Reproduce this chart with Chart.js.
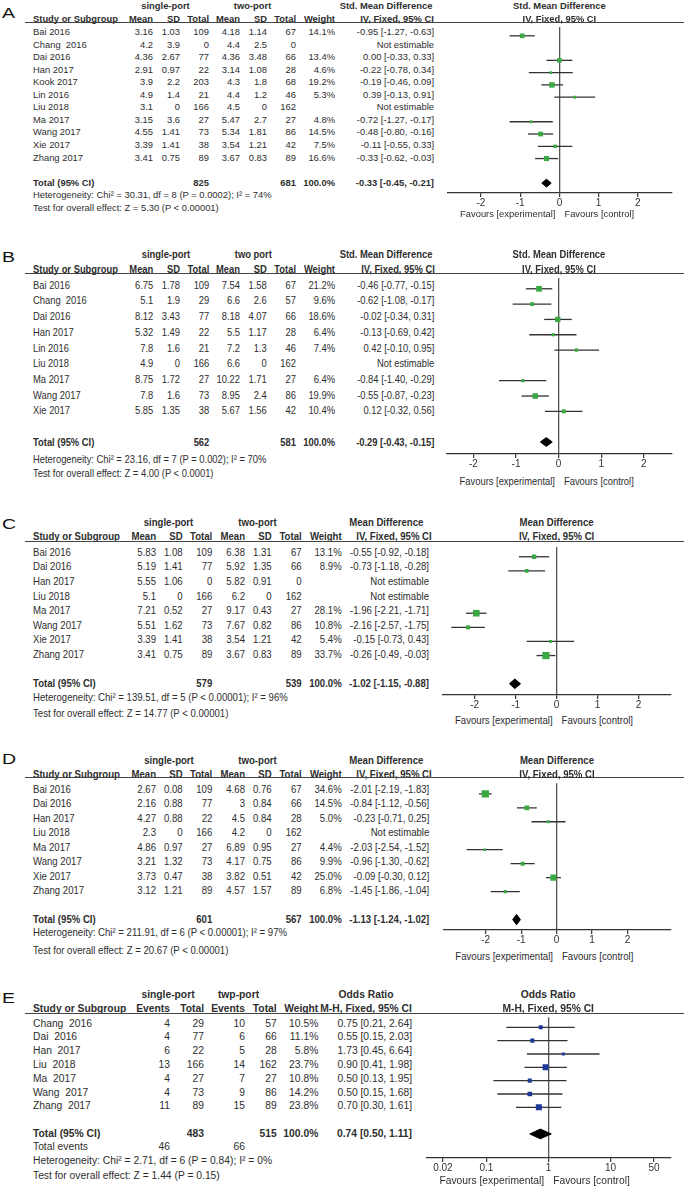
<!DOCTYPE html>
<html>
<head>
<meta charset="utf-8">
<script src="https://cdn.jsdelivr.net/npm/chart.js@4.4.1/dist/chart.umd.min.js"></script>
<style>
body{margin:0;background:#fff}
#fig{position:relative;width:684px;height:1191px;overflow:hidden;font-family:"Liberation Sans",Arial,sans-serif;color:#2e2e2e}
.t{position:absolute;white-space:pre;line-height:1;transform:translate(0,-50%) scaleY(var(--sy,1))}
.t.r{transform:translate(-100%,-50%) scaleY(var(--sy,1))}
.t.c{transform:translate(-50%,-50%) scaleY(var(--sy,1))}
.t.b{font-weight:bold}
.lab{position:absolute;font-size:15px;color:#111;transform:translateY(-50%) scaleX(1.3);transform-origin:left center;line-height:1}
.hl{position:absolute;height:0;border-top:1.4px solid #444}
canvas{position:absolute}
</style>
</head>
<body>
<div id="fig"></div>
<script>
// ---- A (std. mean difference) ----
const aStudy = ['Bai 2016', 'Chang  2016', 'Dai 2016', 'Han 2017', 'Kook 2017', 'Lin 2016', 'Liu 2018', 'Ma 2017', 'Wang 2017', 'Xie 2017', 'Zhang 2017'];
const aMean1 = [3.16, 4.2, 4.36, 2.91, 3.9, 4.9, 3.1, 3.15, 4.55, 3.39, 3.41];
const aSd1 = [1.03, 3.9, 2.67, 0.97, 2.2, 1.4, 0, 3.6, 1.41, 1.41, 0.75];
const aN1 = [109, 0, 77, 22, 203, 21, 166, 27, 73, 38, 89];
const aMean2 = [4.18, 4.4, 4.36, 3.14, 4.3, 4.4, 4.5, 5.47, 5.34, 3.54, 3.67];
const aSd2 = [1.14, 2.5, 3.48, 1.08, 1.8, 1.2, 0, 2.7, 1.81, 1.21, 0.83];
const aN2 = [67, 0, 66, 28, 68, 46, 162, 27, 86, 42, 89];
const aWeight = [14.1, null, 13.4, 4.6, 19.2, 5.3, null, 4.8, 14.5, 7.5, 16.6];
const aEst = [-0.95, null, 0.00, -0.22, -0.19, 0.39, null, -0.72, -0.48, -0.11, -0.33];
const aLo = [-1.27, null, -0.33, -0.78, -0.46, -0.13, null, -1.27, -0.80, -0.55, -0.62];
const aHi = [-0.63, null, 0.33, 0.34, 0.09, 0.91, null, -0.17, -0.16, 0.33, -0.03];
const aTotals = [825, 681];
const aPooled = [-0.33, -0.45, -0.21];
const aHet = 'Heterogeneity: Chi² = 30.31, df = 8 (P = 0.0002); I² = 74%';
const aTest = 'Test for overall effect: Z = 5.30 (P < 0.00001)';

// ---- B ----
const bStudy = ['Bai 2016', 'Chang  2016', 'Dai 2016', 'Han 2017', 'Lin 2016', 'Liu 2018', 'Ma 2017', 'Wang 2017', 'Xie 2017'];
const bMean1 = [6.75, 5.1, 8.12, 5.32, 7.8, 4.9, 8.75, 7.8, 5.85];
const bSd1 = [1.78, 1.9, 3.43, 1.49, 1.6, 0, 1.72, 1.6, 1.35];
const bN1 = [109, 29, 77, 22, 21, 166, 27, 73, 38];
const bMean2 = [7.54, 6.6, 8.18, 5.5, 7.2, 6.6, 10.22, 8.95, 5.67];
const bSd2 = [1.58, 2.6, 4.07, 1.17, 1.3, 0, 1.71, 2.4, 1.56];
const bN2 = [67, 57, 66, 28, 46, 162, 27, 86, 42];
const bWeight = [21.2, 9.6, 18.6, 6.4, 7.4, null, 6.4, 19.9, 10.4];
const bEst = [-0.46, -0.62, -0.02, -0.13, 0.42, null, -0.84, -0.55, 0.12];
const bLo = [-0.77, -1.08, -0.34, -0.69, -0.10, null, -1.40, -0.87, -0.32];
const bHi = [-0.15, -0.17, 0.31, 0.42, 0.95, null, -0.29, -0.23, 0.56];
const bTotals = [562, 581];
const bPooled = [-0.29, -0.43, -0.15];
const bHet = 'Heterogeneity: Chi² = 23.16, df = 7 (P = 0.002); I² = 70%';
const bTest = 'Test for overall effect: Z = 4.00 (P < 0.0001)';

// ---- C ----
const cStudy = ['Bai 2016', 'Dai 2016', 'Han 2017', 'Liu 2018', 'Ma 2017', 'Wang 2017', 'Xie 2017', 'Zhang 2017'];
const cMean1 = [5.83, 5.19, 5.55, 5.1, 7.21, 5.51, 3.39, 3.41];
const cSd1 = [1.08, 1.41, 1.06, 0, 0.52, 1.62, 1.41, 0.75];
const cN1 = [109, 77, 0, 166, 27, 73, 38, 89];
const cMean2 = [6.38, 5.92, 5.82, 6.2, 9.17, 7.67, 3.54, 3.67];
const cSd2 = [1.31, 1.35, 0.91, 0, 0.43, 0.82, 1.21, 0.83];
const cN2 = [67, 66, 0, 162, 27, 86, 42, 89];
const cWeight = [13.1, 8.9, null, null, 28.1, 10.8, 5.4, 33.7];
const cEst = [-0.55, -0.73, null, null, -1.96, -2.16, -0.15, -0.26];
const cLo = [-0.92, -1.18, null, null, -2.21, -2.57, -0.73, -0.49];
const cHi = [-0.18, -0.28, null, null, -1.71, -1.75, 0.43, -0.03];
const cTotals = [579, 539];
const cPooled = [-1.02, -1.15, -0.88];
const cHet = 'Heterogeneity: Chi² = 139.51, df = 5 (P < 0.00001); I² = 96%';
const cTest = 'Test for overall effect: Z = 14.77 (P < 0.00001)';

// ---- D ----
const dStudy = ['Bai 2016', 'Dai 2016', 'Han 2017', 'Liu 2018', 'Ma 2017', 'Wang 2017', 'Xie 2017', 'Zhang 2017'];
const dMean1 = [2.67, 2.16, 4.27, 2.3, 4.86, 3.21, 3.73, 3.12];
const dSd1 = [0.08, 0.88, 0.88, 0, 0.97, 1.32, 0.47, 1.21];
const dN1 = [109, 77, 22, 166, 27, 73, 38, 89];
const dMean2 = [4.68, 3, 4.5, 4.2, 6.89, 4.17, 3.82, 4.57];
const dSd2 = [0.76, 0.84, 0.84, 0, 0.95, 0.75, 0.51, 1.57];
const dN2 = [67, 66, 28, 162, 27, 86, 42, 89];
const dWeight = [34.6, 14.5, 5.0, null, 4.4, 9.9, 25.0, 6.8];
const dEst = [-2.01, -0.84, -0.23, null, -2.03, -0.96, -0.09, -1.45];
const dLo = [-2.19, -1.12, -0.71, null, -2.54, -1.30, -0.30, -1.86];
const dHi = [-1.83, -0.56, 0.25, null, -1.52, -0.62, 0.12, -1.04];
const dTotals = [601, 567];
const dPooled = [-1.13, -1.24, -1.02];
const dHet = 'Heterogeneity: Chi² = 211.91, df = 6 (P < 0.00001); I² = 97%';
const dTest = 'Test for overall effect: Z = 20.67 (P < 0.00001)';

// ---- E (odds ratio) ----
const eStudy = ['Chang  2016', 'Dai  2016', 'Han  2017', 'Liu  2018', 'Ma  2017', 'Wang  2017', 'Zhang  2017'];
const eEv1 = [4, 4, 6, 13, 4, 4, 11];
const eN1 = [29, 77, 22, 166, 27, 73, 89];
const eEv2 = [10, 6, 5, 14, 7, 9, 15];
const eN2 = [57, 66, 28, 162, 27, 86, 89];
const eWeight = [10.5, 11.1, 5.8, 23.7, 10.8, 14.2, 23.8];
const eEst = [0.75, 0.55, 1.73, 0.90, 0.50, 0.50, 0.70];
const eLo = [0.21, 0.15, 0.45, 0.41, 0.13, 0.15, 0.30];
const eHi = [2.64, 2.03, 6.64, 1.98, 1.95, 1.68, 1.61];
const eTotals = [483, 515];
const eEvents = [46, 66];
const ePooled = [0.74, 0.50, 1.11];
const eHet = 'Heterogeneity: Chi² = 2.71, df = 6 (P = 0.84); I² = 0%';
const eTest = 'Test for overall effect: Z = 1.44 (P = 0.15)';

const smdTicks = [-2, -1, 0, 1, 2];
const orTicks = [0.02, 0.1, 1, 10, 50];
const contHdr = ['Mean', 'SD', 'Total', 'Mean', 'SD', 'Total', 'Weight'];
const binHdr = ['Events', 'Total', 'Events', 'Total', 'Weight'];

const panels = [
    {id: 'A', study: aStudy, cols: [aMean1, aSd1, aN1, aMean2, aSd2, aN2], colHdr: contHdr, totCols: [2, 5],
     weight: aWeight, est: aEst, lo: aLo, hi: aHi, totals: aTotals, pooled: aPooled, het: aHet, test: aTest,
     groups: ['single-port', 'two-port'], ciHdr: ['Std. Mean Difference', 'IV, Fixed, 95% CI'], ticks: smdTicks, ref: 0},
    {id: 'B', study: bStudy, cols: [bMean1, bSd1, bN1, bMean2, bSd2, bN2], colHdr: contHdr, totCols: [2, 5],
     weight: bWeight, est: bEst, lo: bLo, hi: bHi, totals: bTotals, pooled: bPooled, het: bHet, test: bTest,
     groups: ['single-port', 'two port'], ciHdr: ['Std. Mean Difference', 'IV, Fixed, 95% CI'], ticks: smdTicks, ref: 0},
    {id: 'C', study: cStudy, cols: [cMean1, cSd1, cN1, cMean2, cSd2, cN2], colHdr: contHdr, totCols: [2, 5],
     weight: cWeight, est: cEst, lo: cLo, hi: cHi, totals: cTotals, pooled: cPooled, het: cHet, test: cTest,
     groups: ['single-port', 'two-port'], ciHdr: ['Mean Difference', 'IV, Fixed, 95% CI'], ticks: smdTicks, ref: 0},
    {id: 'D', study: dStudy, cols: [dMean1, dSd1, dN1, dMean2, dSd2, dN2], colHdr: contHdr, totCols: [2, 5],
     weight: dWeight, est: dEst, lo: dLo, hi: dHi, totals: dTotals, pooled: dPooled, het: dHet, test: dTest,
     groups: ['single-port', 'two-port'], ciHdr: ['Mean Difference', 'IV, Fixed, 95% CI'], ticks: smdTicks, ref: 0},
    {id: 'E', study: eStudy, cols: [eEv1, eN1, eEv2, eN2], colHdr: binHdr, totCols: [1, 3], events: eEvents,
     weight: eWeight, est: eEst, lo: eLo, hi: eHi, totals: eTotals, pooled: ePooled, het: eHet, test: eTest,
     groups: ['single-port', 'twp-port'], ciHdr: ['Odds Ratio', 'M-H, Fixed, 95% CI'], ticks: orTicks, ref: 1, log: true}
];

// page positions (px) for each panel
const layouts = {
    A: {lab: 12, h1: 6, h2: 19, line: 23, y0: 32, dy: 12.55, het: 195, test: 208, font: 9.4, sy: 1.05,
        colX: [153, 180, 209, 240, 267, 296, 335], grpX: [165.5, 252.6], hdrX: [386, 397], ciR: 434,
        plotL: 444, plotR: 676, xmin: -2.84, xmax: 2.87, axisY: 192.7, fav: 213.5, dia: 4},
    B: {lab: 255.5, h1: 253.7, h2: 268.7, line: 273.7, y0: 284.7, dy: 15.7, het: 458.5, test: 473, font: 9.4, sy: 1.15,
        colX: [153.3, 180, 209.3, 240, 266.7, 296, 335], grpX: [166, 253.3], hdrX: [386, 398], ciR: 434.3,
        plotL: 443.3, plotR: 676.7, xmin: -2.62, xmax: 2.66, axisY: 454, fav: 480.7, dia: 4.5},
    C: {lab: 523, h1: 521.7, h2: 536, line: 541.7, y0: 551.7, dy: 14.6, het: 697.3, test: 713, font: 9.6, sy: 1.12,
        colX: [156, 182.7, 212.3, 245, 271.7, 301.7, 341.7], grpX: [168.5, 257.5], hdrX: [386.3, 394], ciR: 429,
        plotL: 438, plotR: 676, xmin: -2.77, xmax: 2.79, axisY: 694.7, fav: 719.7, dia: 5},
    D: {lab: 758, h1: 759.7, h2: 773.7, line: 778, y0: 789, dy: 14.47, het: 932.3, test: 949.7, font: 9.6, sy: 1.12,
        colX: [156, 182.7, 212.3, 245, 271.7, 301.7, 341.7], grpX: [169, 257.5], hdrX: [386.3, 394], ciR: 429.3,
        plotL: 438.3, plotR: 676, xmin: -3.2, xmax: 3.22, axisY: 930, fav: 955.7, dia: 5.3},
    E: {lab: 997, h1: 995.3, h2: 1009, line: 1013.3, y0: 1023.7, dy: 13.77, het: 1161.3, test: 1175.7, evY: 1147.3, font: 10.3, sy: 1.05,
        colX: [170, 204, 245, 276.7, 318.3], grpX: [168, 238.5], hdrX: [366, 366], ciR: 412,
        plotL: 421.7, plotR: 675, xmin: 0.0108, xmax: 92.7, axisY: 1158.7, fav: 1180.7, dia: 5}
};

const GREEN = '#3aa843';
const BLUE = '#1e3a96';
const INK = '#333';
const FONT = '"Liberation Sans", Arial, sans-serif';
const fig = document.getElementById('fig');

function txt(str, x, y, L, align, bold) {
    const el = document.createElement('div');
    el.className = 't' + (align ? ' ' + align : '') + (bold ? ' b' : '');
    el.textContent = str;
    el.style.left = x + 'px';
    el.style.top = y + 'px';
    el.style.fontSize = L.font + 'px';
    el.style.setProperty('--sy', L.sy);
    fig.appendChild(el);
}

function ciText(e, l, h) {
    if (e == null) return 'Not estimable';
    return e.toFixed(2) + ' [' + l.toFixed(2) + ', ' + h.toFixed(2) + ']';
}

function drawPanel(p) {
    const L = layouts[p.id];
    const n = p.study.length;
    const tIdx = n + 1;
    const rowY = i => L.y0 + i * L.dy;
    const wX = L.colX[L.colX.length - 1];

    // panel letter
    const lab = document.createElement('div');
    lab.className = 'lab';
    lab.textContent = p.id;
    lab.style.left = '2px';
    lab.style.top = L.lab + 'px';
    fig.appendChild(lab);

    // headers
    txt(p.groups[0], L.grpX[0], L.h1, L, 'c', true);
    txt(p.groups[1], L.grpX[1], L.h1, L, 'c', true);
    txt(p.ciHdr[0], L.hdrX[0], L.h1, L, 'c', true);
    txt(p.ciHdr[1], L.hdrX[1], L.h2, L, 'c', true);
    txt('Study or Subgroup', 33, L.h2, L, '', true);
    p.colHdr.forEach((h, k) => txt(h, L.colX[k], L.h2, L, 'r', true));

    const hl = document.createElement('div');
    hl.className = 'hl';
    hl.style.left = '25px';
    hl.style.width = '659px';
    hl.style.top = (L.line - 0.7) + 'px';
    fig.appendChild(hl);

    // study rows
    p.study.forEach((s, i) => {
        const y = rowY(i);
        txt(s, 33, y, L);
        p.cols.forEach((col, k) => txt(String(col[i]), L.colX[k], y, L, 'r'));
        if (p.weight[i] != null) txt(p.weight[i].toFixed(1) + '%', wX, y, L, 'r');
        txt(ciText(p.est[i], p.lo[i], p.hi[i]), L.ciR, y, L, 'r');
    });

    // total row
    const ty = rowY(tIdx);
    txt('Total (95% CI)', 33, ty, L, '', true);
    txt(String(p.totals[0]), L.colX[p.totCols[0]], ty, L, 'r', true);
    txt(String(p.totals[1]), L.colX[p.totCols[1]], ty, L, 'r', true);
    txt('100.0%', wX, ty, L, 'r', true);
    txt(ciText(p.pooled[0], p.pooled[1], p.pooled[2]), L.ciR, ty, L, 'r', true);
    if (p.events) {
        txt('Total events', 33, L.evY, L);
        txt(String(p.events[0]), L.colX[0], L.evY, L, 'r');
        txt(String(p.events[1]), L.colX[2], L.evY, L, 'r');
    }
    txt(p.het, 33, L.het, L);
    txt(p.test, 33, L.test, L);

    // forest plot
    const cv = document.createElement('canvas');
    const w = Math.round(L.plotR - L.plotL);
    const xH = 18;
    const h = Math.round(L.axisY - L.line) + xH;
    cv.width = w;
    cv.height = h;
    cv.style.left = L.plotL + 'px';
    cv.style.top = L.line + 'px';
    fig.appendChild(cv);

    const rows = [];
    p.est.forEach((e, i) => { if (e != null) rows.push(i); });
    const mark = p.log ? BLUE : GREEN;
    const datasets = [];
    datasets.push({
        data: rows.map(i => ({x: p.est[i], y: i})),
        pointStyle: 'rect',
        pointRadius: c => 0.88 * Math.sqrt(p.weight[rows[c.dataIndex]]),
        backgroundColor: mark,
        borderWidth: 0,
        showLine: false
    });
    rows.forEach(i => datasets.push({
        data: [{x: p.lo[i], y: i}, {x: p.hi[i], y: i}],
        showLine: true, borderColor: INK, borderWidth: 1.3, pointRadius: 0
    }));
    const dh = L.dia / L.dy;
    const [pe, pl, ph] = p.pooled;
    const upIdx = datasets.length;
    datasets.push({
        data: [{x: pl, y: tIdx}, {x: pe, y: tIdx - dh}, {x: ph, y: tIdx}],
        showLine: true, borderColor: '#000', borderWidth: 1, pointRadius: 0
    });
    datasets.push({
        data: [{x: pl, y: tIdx}, {x: pe, y: tIdx + dh}, {x: ph, y: tIdx}],
        showLine: true, borderColor: '#000', borderWidth: 1, pointRadius: 0,
        fill: upIdx, backgroundColor: '#000'
    });

    const chart = new Chart(cv.getContext('2d'), {
        type: 'scatter',
        data: {datasets},
        options: {
            responsive: false,
            animation: false,
            events: [],
            layout: {padding: 0},
            plugins: {legend: {display: false}, tooltip: {enabled: false}, colors: {enabled: false}},
            scales: {
                x: {
                    type: p.log ? 'logarithmic' : 'linear',
                    min: L.xmin,
                    max: L.xmax,
                    afterBuildTicks: s => { s.ticks = p.ticks.map(v => ({value: v})); },
                    afterFit: s => { s.height = xH; s.paddingLeft = 0; s.paddingRight = 0; },
                    ticks: {
                        color: INK, padding: 0, autoSkip: false, maxRotation: 0,
                        font: {size: 10, family: FONT},
                        callback: v => String(v)
                    },
                    grid: {
                        drawOnChartArea: true, drawTicks: true, tickLength: 4,
                        tickColor: INK, tickWidth: 1.2, lineWidth: 1.3,
                        color: c => (c.tick && c.tick.value === p.ref) ? '#555' : 'rgba(0,0,0,0)'
                    },
                    border: {display: true, color: INK, width: 1.3}
                },
                y: {
                    type: 'linear', display: false, reverse: true,
                    min: (L.line - L.y0) / L.dy,
                    max: (L.axisY - L.y0) / L.dy
                }
            }
        }
    });

    // plot headers and favours labels, placed on the reference line
    const refX = L.plotL + chart.scales.x.getPixelForValue(p.ref);
    txt(p.ciHdr[0], refX, L.h1, L, 'c', true);
    txt(p.ciHdr[1], refX, L.h2, L, 'c', true);
    txt('Favours [experimental]', refX - 4, L.fav, L, 'r');
    txt('Favours [control]', refX + 5, L.fav, L);
}

panels.forEach(drawPanel);
</script>
</body>
</html>
